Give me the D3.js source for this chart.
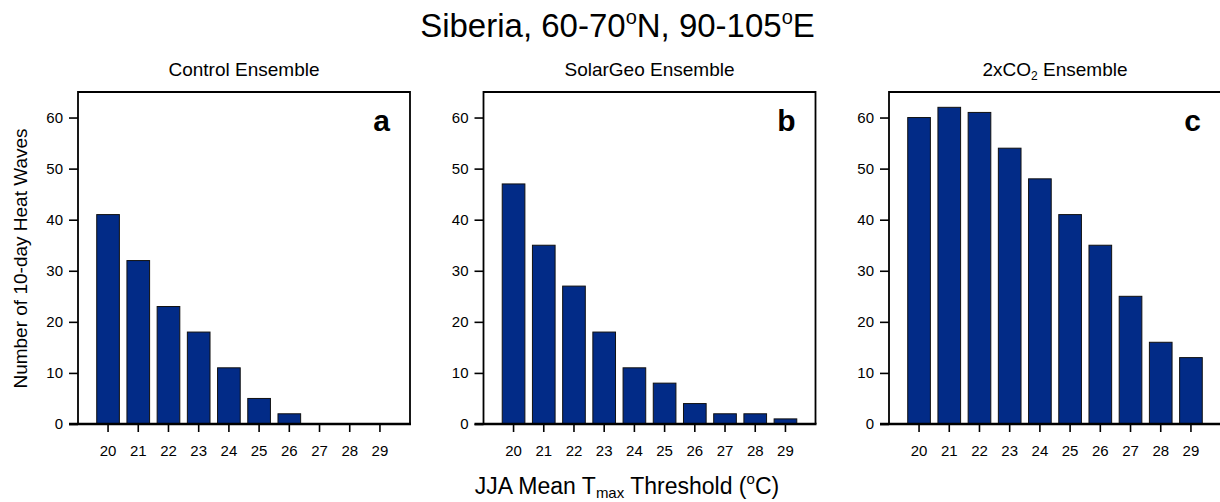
<!DOCTYPE html>
<html>
<head>
<meta charset="utf-8">
<script src="https://cdn.jsdelivr.net/npm/d3@7"></script>
<style>
  html, body { margin: 0; padding: 0; background: #fff; }
  svg { display: block; font-family: "Liberation Sans", Arial, Helvetica, sans-serif; }
</style>
</head>
<body>
<svg id="chart" width="1220" height="502"></svg>
<script>
// ---- data ----
const thresholds = [20, 21, 22, 23, 24, 25, 26, 27, 28, 29];
const controlValues = [41, 32, 23, 18, 11, 5, 2, 0, 0, 0];
const solarGeoValues = [47, 35, 27, 18, 11, 8, 4, 2, 2, 1];
const co2Values = [60, 62, 61, 54, 48, 41, 35, 25, 16, 13];
const yTicks = [0, 10, 20, 30, 40, 50, 60];
const panelLetters = ["a", "b", "c"];

const panels = [
  { title: [{t: "Control Ensemble"}], values: controlValues, letter: panelLetters[0] },
  { title: [{t: "SolarGeo Ensemble"}], values: solarGeoValues, letter: panelLetters[1] },
  { title: [{t: "2xCO"}, {t: "2", sub: true}, {t: " Ensemble"}], values: co2Values, letter: panelLetters[2] }
];

// ---- layout ----
const svg = d3.select("#chart");
const panelLefts = [78, 483.5, 889];
const panelW = 332;
const plotTop = 92, plotBottom = 424;
const barColor = "#022b87";
const tickFont = 15;

const y = d3.scaleLinear().domain([0, 65]).range([plotBottom, plotTop]);

// Main title
const title = svg.append("text")
  .attr("x", 617.5).attr("y", 37)
  .attr("text-anchor", "middle")
  .attr("font-size", 33)
  .attr("fill", "#000");
title.append("tspan").text("Siberia, 60-70");
title.append("tspan").text("o").attr("font-size", 20).attr("dy", -13);
title.append("tspan").text("N, 90-105").attr("dy", 13);
title.append("tspan").text("o").attr("font-size", 20).attr("dy", -13);
title.append("tspan").text("E").attr("dy", 13);

panels.forEach((p, i) => {
  const left = panelLefts[i];
  const g = svg.append("g");
  const x = d3.scaleBand()
    .domain(thresholds)
    .range([left, left + panelW])
    .paddingInner(0.25)
    .paddingOuter(0.62);

  // bars
  g.selectAll("rect.bar")
    .data(thresholds.map((t, k) => ({ t, v: p.values[k] })).filter(d => d.v > 0))
    .enter().append("rect")
    .attr("class", "bar")
    .attr("x", d => x(d.t))
    .attr("width", x.bandwidth())
    .attr("y", d => y(d.v))
    .attr("height", d => y(0) - y(d.v))
    .attr("fill", barColor)
    .attr("stroke", "#111")
    .attr("stroke-width", 1);

  // frame (left, top, right)
  g.append("path")
    .attr("d", `M${left},${plotBottom} L${left},${plotTop} L${left + panelW},${plotTop} L${left + panelW},${plotBottom}`)
    .attr("fill", "none")
    .attr("stroke", "#000")
    .attr("stroke-width", 1.8);

  // y axis
  const yAxis = d3.axisLeft(y).tickValues(yTicks).tickSize(9).tickPadding(6);
  const ya = g.append("g").attr("transform", `translate(${left},0)`).call(yAxis);
  ya.select(".domain").remove();
  ya.selectAll(".tick line").attr("stroke", "#000").attr("stroke-width", 1.6);
  ya.selectAll(".tick text").attr("font-size", tickFont).attr("fill", "#000")
    .attr("font-family", "Liberation Sans, Arial, sans-serif");

  // x axis
  const xAxis = d3.axisBottom(x).tickSize(8).tickPadding(13);
  const xa = g.append("g").attr("transform", `translate(0,${plotBottom})`).call(xAxis);
  xa.select(".domain").remove();
  xa.selectAll(".tick line").attr("stroke", "#000").attr("stroke-width", 1.6);
  xa.selectAll(".tick text").attr("font-size", tickFont).attr("fill", "#000")
    .attr("font-family", "Liberation Sans, Arial, sans-serif");
  g.append("line")
    .attr("x1", left - 9).attr("x2", left + panelW + 1)
    .attr("y1", plotBottom).attr("y2", plotBottom)
    .attr("stroke", "#000").attr("stroke-width", 2.6);

  // panel title
  const pt = g.append("text")
    .attr("x", left + panelW / 2).attr("y", 76)
    .attr("text-anchor", "middle")
    .attr("font-size", 19).attr("fill", "#000");
  p.title.forEach((s, k) => {
    if (s.sub) pt.append("tspan").text(s.t).attr("font-size", 12).attr("dy", 4);
    else pt.append("tspan").text(s.t).attr("dy", k > 0 ? -4 : 0);
  });

  // panel letter
  g.append("text")
    .attr("x", left + panelW - 20).attr("y", 131)
    .attr("text-anchor", "end")
    .attr("font-size", 30).attr("font-weight", "bold").attr("fill", "#000")
    .text(p.letter);
});

// Y axis label
svg.append("text")
  .attr("transform", "translate(27,258.5) rotate(-90)")
  .attr("text-anchor", "middle")
  .attr("font-size", 19).attr("fill", "#000")
  .text("Number of 10-day Heat Waves");

// X axis label
const xl = svg.append("text")
  .attr("x", 627).attr("y", 494)
  .attr("text-anchor", "middle")
  .attr("font-size", 23).attr("fill", "#000");
xl.append("tspan").text("JJA Mean T");
xl.append("tspan").text("max").attr("font-size", 15).attr("dy", 4);
xl.append("tspan").text(" Threshold (").attr("dy", -4);
xl.append("tspan").text("o").attr("font-size", 15).attr("dy", -10);
xl.append("tspan").text("C)").attr("dy", 10);
</script>
</body>
</html>
